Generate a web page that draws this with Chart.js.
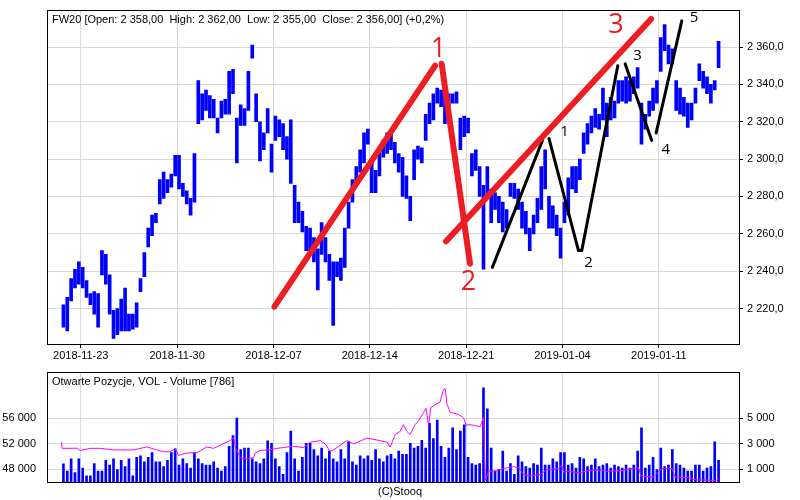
<!DOCTYPE html>
<html>
<head>
<meta charset="utf-8">
<script src="https://cdn.jsdelivr.net/npm/chart.js@4.4.1/dist/chart.umd.min.js"></script>
<style>
  html, body { margin: 0; padding: 0; background: #fff; }
  #wrap { position: relative; width: 800px; height: 500px; }
  #price { position: absolute; left: 0; top: 0; }
  #vol { position: absolute; left: 0; top: 362px; }
</style>
</head>
<body>
<div id="wrap">
  <canvas id="price" width="800" height="362" style="width:800px;height:362px"></canvas>
  <canvas id="vol" width="800" height="138" style="width:800px;height:138px"></canvas>
</div>
<script>
// x axis is in trading days, day 0 = 2018-11-22, 5 bars per day
const barsPerDay = 5;
const dateTicks = [1, 6, 11, 16, 21, 26, 31];
const dateLabels = ["2018-11-23", "2018-11-30", "2018-12-07", "2018-12-14", "2018-12-21", "2019-01-04", "2019-01-11"];
const priceTicks = [2220, 2240, 2260, 2280, 2300, 2320, 2340, 2360];

const lows = [
  2210, 2208, 2224, 2231, 2233,  2231, 2226, 2222, 2217, 2210,  2238, 2233, 2217, 2204, 2206,
  2208, 2208, 2208, 2209, 2210,  2229, 2237, 2253, 2259, 2266,  2276, 2279, 2282, 2285, 2291,
  2284, 2280, 2276, 2270, 2277,  2319, 2321, 2326, 2322, 2322,  2314, 2322, 2324, 2324, 2335,
  2298, 2318, 2318, 2326, 2354,  2320, 2299, 2305, 2314, 2293,  2310, 2312, 2305, 2300, 2287,
  2266, 2266, 2261, 2251, 2249,  2245, 2230, 2249, 2245, 2235,  2211, 2237, 2235, 2242, 2263,
  2277, 2286, 2293, 2298, 2308,  2282, 2282, 2291, 2301, 2303,  2305, 2298, 2293, 2280, 2279,
  2267, 2289, 2300, 2298, 2310,  2319, 2321, 2330, 2328, 2319,  2328, 2330, 2330, 2305, 2312,
  2314, 2291, 2294, 2280, 2241,  2280, 2266, 2273, 2266, 2261,  2263, 2280, 2279, 2273, 2263,
  2260, 2251, 2260, 2266, 2273,  2284, 2263, 2263, 2259, 2247,  2266, 2270, 2284, 2282, 2289,
  2303, 2308, 2314, 2317, 2316,  2321, 2312, 2321, 2322, 2330,  2331, 2330, 2331, 2335, 2338,
  2308, 2316, 2323, 2326, 2330,  2347, 2358, 2351, 2351, 2326,  2324, 2323, 2317, 2321, 2330,
  2342, 2338, 2335, 2330, 2337,  2349
];
const highs = [
  2222, 2226, 2236, 2241, 2245,  2242, 2235, 2228, 2229, 2228,  2251, 2249, 2238, 2219, 2220,
  2225, 2231, 2217, 2217, 2223,  2236, 2250, 2263, 2270, 2271,  2289, 2293, 2289, 2292, 2302,
  2302, 2287, 2283, 2279, 2303,  2342, 2335, 2337, 2334, 2332,  2322, 2331, 2332, 2347, 2348,
  2322, 2329, 2327, 2347, 2361,  2335, 2320, 2314, 2327, 2308,  2323, 2321, 2319, 2312, 2321,
  2286, 2277, 2272, 2264, 2263,  2258, 2252, 2266, 2258, 2249,  2245, 2245, 2247, 2263, 2277,
  2289, 2296, 2305, 2314, 2316,  2298, 2294, 2305, 2310, 2314,  2314, 2309, 2303, 2301, 2291,
  2280, 2305, 2307, 2306, 2324,  2330, 2335, 2338, 2337, 2336,  2335, 2335, 2336, 2322, 2323,
  2322, 2303, 2305, 2296, 2286,  2296, 2284, 2282, 2280, 2277,  2273, 2287, 2287, 2284, 2277,
  2272, 2263, 2270, 2279, 2296,  2305, 2280, 2275, 2270, 2263,  2277, 2290, 2296, 2296, 2300,
  2314, 2319, 2323, 2327, 2324,  2338, 2330, 2333, 2331, 2342,  2342, 2344, 2342, 2344, 2349,
  2330, 2324, 2331, 2338, 2342,  2365, 2372, 2361, 2359, 2342,  2338, 2333, 2330, 2330, 2338,
  2351, 2347, 2344, 2340, 2342,  2363
];
const volumes = [
  1430, 850, 1820, 730, 1820,  1090, 480, 480, 1450, 850,  850, 1700, 1330, 1820, 970,
  1700, 1210, 1820, 480, 1940,  2060, 1575, 1940, 2300, 1575,  1575, 1210, 1700, 2300, 2600,
  1330, 1820, 1450, 1090, 2300,  1820, 1450, 1330, 1330, 1575,  1090, 850, 1210, 2790, 3640,
  5020, 2545, 2670, 2670, 1820,  1575, 1450, 1820, 3220, 3030,  1820, 1210, 600, 2300, 4000,
  1820, 850, 1940, 3030, 3030,  2545, 2060, 2670, 1820, 2420,  1820, 1575, 2545, 1820, 3150,
  1575, 1330, 2060, 1820, 2060,  1700, 2545, 1820, 1575, 2060,  2180, 1820, 2420, 2180, 2180,
  3030, 2670, 2790, 3270, 2670,  4600, 3400, 4850, 2790, 1940,  2670, 4240, 2545, 4000, 4480,
  1940, 1450, 1330, 1450, 7390,  5740, 2670, 850, 1000, 2420,  850, 1450, 600, 2060, 1575,
  1210, 1090, 1450, 1330, 2670,  1330, 1330, 1820, 1575, 2300,  2300, 1330, 1450, 1090, 1940,
  1820, 1210, 1330, 1820, 1210,  1330, 1450, 1090, 1330, 1210,  1090, 1330, 1090, 1330, 2420,
  4240, 1090, 1330, 1940, 970,  2670, 1210, 1330, 2545, 1450,  1330, 1090, 850, 850, 1330,
  1330, 850, 1090, 1210, 3150,  1700
];

// open interest (Otwarte Pozycje), sampled in trading days
const oiDays = [
  0.0, 0.03, 0.8, 0.97, 1.49, 2.01, 2.7, 3.74, 4.43, 4.95, 5.29, 5.64, 5.9, 6.07, 6.51, 7.02, 7.54, 7.89,
  8.24, 8.75, 8.93, 9.03, 9.13, 9.27, 9.62, 9.97, 10.05, 10.31, 10.83, 11.18, 11.52, 12.04, 12.56, 12.91,
  13.43, 13.68, 13.94, 14.12, 14.81, 15.16, 15.85, 16.54, 16.89, 17.06, 17.32, 17.57, 17.75, 17.92, 18.09,
  18.35, 18.53, 18.78, 18.92, 19.05, 19.17, 19.48, 19.65, 19.79, 19.91, 20.0, 20.17, 20.6, 20.86, 21.0,
  21.21, 21.73, 21.9, 22.0, 22.16, 22.59, 22.94, 23.46, 23.72, 23.98, 24.32, 24.84, 25.19, 25.79, 25.97,
  26.05, 26.4, 26.91, 27.26, 27.95, 28.3, 28.99, 29.69, 29.95, 30.07, 30.72, 31.15, 31.68, 31.85, 32.45,
  32.97, 33.49, 33.92, 34.1
];
const oiValues = [
  52250, 51280, 51300, 50950, 51280, 51280, 51040, 51040, 51500, 51040, 50750, 50750, 51280, 50170, 50560, 50560, 51500, 51280,
  51770, 52490, 52970, 51280, 50800, 49840, 49600, 49840, 50560, 50950, 51040, 51280, 51400, 51620, 51400, 52250,
  52490, 52000, 50800, 51040, 52490, 52000, 52880, 52490, 52250, 51500, 53460, 53940, 55000, 53940, 53460,
  55000, 55630, 56840, 57560, 54900, 57700, 58290, 58530, 60220, 60700, 58290, 56940, 56600, 56110, 54900,
  55000, 54670, 56110, 46210, 47660, 47760, 48140, 48390, 48250, 47180, 46940, 47180, 47900, 48140, 48630,
  47570, 47660, 47420, 47760, 47900, 47660, 47760, 48140, 48250, 46940, 46790, 48140, 48140, 46790, 46700,
  46310, 46310, 46210, 46450
];
const oiTicks = [48000, 52000, 56000];
const volTicks = [1000, 3000, 5000];

// hand drawn wave marks, in (trading day, price)
const redLines = [
  [[11.05, 2221], [19.39, 2350]],
  [[19.73, 2351], [21.2, 2244]],
  [[19.96, 2256], [30.6, 2375]]
];
const blackLines = [
  [[22.36, 2242], [24.96, 2310]],
  [[25.3, 2311], [26.83, 2251], [27.0, 2251], [28.87, 2350]],
  [[29.25, 2351], [30.63, 2310]],
  [[30.86, 2314], [32.19, 2374]]
];
const redMarks = [["1", 19.56, 2358.6], ["2", 21.12, 2234], ["3", 28.77, 2371.7]];
const blackMarks = [["1", 26.1, 2314.7], ["2", 27.35, 2244.4], ["3", 29.9, 2355.6], ["4", 31.36, 2305], ["5", 32.83, 2375.6]];

const FONT = "Liberation Sans, Arial, sans-serif";
const gridColor = "#d9d9d9";
Chart.defaults.font.family = FONT;
Chart.defaults.font.size = 11;
Chart.defaults.color = "#000";

function fmt(v, dec) {
  const parts = v.toFixed(dec).split(".");
  const whole = parts[0].replace(/\B(?=(\d{3})+(?!\d))/g, " ");
  return dec ? whole + "," + parts[1] : whole;
}

function framePlugin(title, footer) {
  return {
    id: "frame",
    beforeDraw(chart) {
      const ctx = chart.ctx;
      ctx.save();
      ctx.fillStyle = "#fff";
      ctx.fillRect(0, 0, chart.width, chart.height);
      ctx.restore();
    },
    afterDraw(chart) {
      const a = chart.chartArea, ctx = chart.ctx;
      ctx.save();
      ctx.strokeStyle = "#000";
      ctx.lineWidth = 1;
      ctx.strokeRect(Math.round(a.left) - 0.5, Math.round(a.top) - 0.5,
        Math.round(a.right - a.left) + 1, Math.round(a.bottom - a.top) + 1);
      ctx.fillStyle = "#000";
      ctx.font = "11px " + FONT;
      ctx.textBaseline = "middle";
      ctx.textAlign = "left";
      ctx.fillText(title, a.left + 4, a.top + 9);
      if (footer) {
        ctx.textAlign = "center";
        ctx.fillText(footer, 400, a.bottom + 10);
      }
      ctx.restore();
    }
  };
}

const marksPlugin = {
  id: "marks",
  afterDatasetsDraw(chart) {
    const ctx = chart.ctx, x = chart.scales.x, y = chart.scales.y;
    ctx.save();
    ctx.textAlign = "center";
    ctx.textBaseline = "middle";
    ctx.fillStyle = "#ee1d23";
    ctx.font = "27px Open Sans, sans-serif";
    redMarks.forEach(m => ctx.fillText(m[0], x.getPixelForValue(m[1]), y.getPixelForValue(m[2])));
    ctx.fillStyle = "#000";
    ctx.font = "15px Open Sans, sans-serif";
    blackMarks.forEach(m => ctx.fillText(m[0], x.getPixelForValue(m[1]), y.getPixelForValue(m[2])));
    ctx.restore();
  }
};

const xRange = { min: -0.7, max: 35.16 };

function lineSet(seg, color, width, order) {
  return {
    type: "line",
    data: seg.map(p => ({ x: p[0], y: p[1] })),
    borderColor: color,
    borderWidth: width,
    borderCapStyle: "round",
    borderJoinStyle: "round",
    pointRadius: 0,
    tension: 0,
    order: order
  };
}

new Chart(document.getElementById("price"), {
  type: "bar",
  data: {
    datasets: [
      ...redLines.map(s => lineSet(s, "#ee1d23", 6, 0)),
      ...blackLines.map(s => lineSet(s, "#000", 3, 1)),
      {
        type: "bar",
        data: lows.map((lo, i) => ({ x: (i + 0.5) / barsPerDay, y: [lo, highs[i]] })),
        backgroundColor: "#0000ff",
        barThickness: 3,
        order: 5
      }
    ]
  },
  options: {
    responsive: false,
    animation: false,
    events: [],
    layout: { padding: { left: 48, top: 5, right: 0, bottom: 0 } },
    plugins: { legend: { display: false }, tooltip: { enabled: false } },
    scales: {
      x: {
        type: "linear", min: xRange.min, max: xRange.max, offset: false,
        grid: { offset: false, color: gridColor, tickColor: "#000", tickLength: 4 },
        border: { display: false },
        ticks: { autoSkip: false, maxRotation: 0, padding: 1, callback: (v, i) => dateLabels[i] },
        afterBuildTicks: s => { s.ticks = dateTicks.map(v => ({ value: v })); },
        afterFit: s => { s.height = 18; }
      },
      y: {
        position: "right", min: 2201, max: 2379.5,
        grid: { color: gridColor, tickColor: "#000", tickLength: 4 },
        border: { display: false },
        ticks: { padding: 4, callback: v => fmt(v, 1) },
        afterBuildTicks: s => { s.ticks = priceTicks.map(v => ({ value: v })); },
        afterFit: s => { s.width = 61; }
      }
    }
  },
  plugins: [framePlugin("FW20 [Open: 2 358,00  High: 2 362,00  Low: 2 355,00  Close: 2 356,00] (+0,2%)"), marksPlugin]
});

new Chart(document.getElementById("vol"), {
  type: "bar",
  data: {
    datasets: [
      {
        type: "line",
        data: oiDays.map((d, i) => ({ x: d, y: oiValues[i] })),
        yAxisID: "yOI",
        borderColor: "#ff00ff",
        borderWidth: 1,
        pointRadius: 0,
        tension: 0,
        order: 0
      },
      {
        type: "bar",
        data: volumes.map((v, i) => ({ x: (i + 0.5) / barsPerDay, y: v })),
        yAxisID: "yVol",
        backgroundColor: "#0000ff",
        barThickness: 2,
        order: 1
      }
    ]
  },
  options: {
    responsive: false,
    animation: false,
    events: [],
    layout: { padding: { left: 0, top: 2, right: 0, bottom: 0 } },
    plugins: { legend: { display: false }, tooltip: { enabled: false } },
    scales: {
      x: {
        type: "linear", min: xRange.min, max: xRange.max, offset: false,
        grid: { offset: false, color: gridColor, drawTicks: false },
        border: { display: false },
        ticks: { display: false },
        afterBuildTicks: s => { s.ticks = dateTicks.map(v => ({ value: v })); },
        afterFit: s => { s.height = 18; }
      },
      yOI: {
        position: "left", min: 46000, max: 63164,
        grid: { display: false },
        border: { display: false },
        ticks: { padding: 4, callback: v => fmt(v, 0) },
        afterBuildTicks: s => { s.ticks = oiTicks.map(v => ({ value: v })); },
        afterFit: s => { s.width = 48; }
      },
      yVol: {
        position: "right", min: 0, max: 8582,
        grid: { color: gridColor, tickColor: "#000", tickLength: 4 },
        border: { display: false },
        ticks: { padding: 4, callback: v => fmt(v, 0) },
        afterBuildTicks: s => { s.ticks = volTicks.map(v => ({ value: v })); },
        afterFit: s => { s.width = 61; }
      }
    }
  },
  plugins: [framePlugin("Otwarte Pozycje, VOL - Volume [786]", "(C)Stooq")]
});
</script>
</body>
</html>
